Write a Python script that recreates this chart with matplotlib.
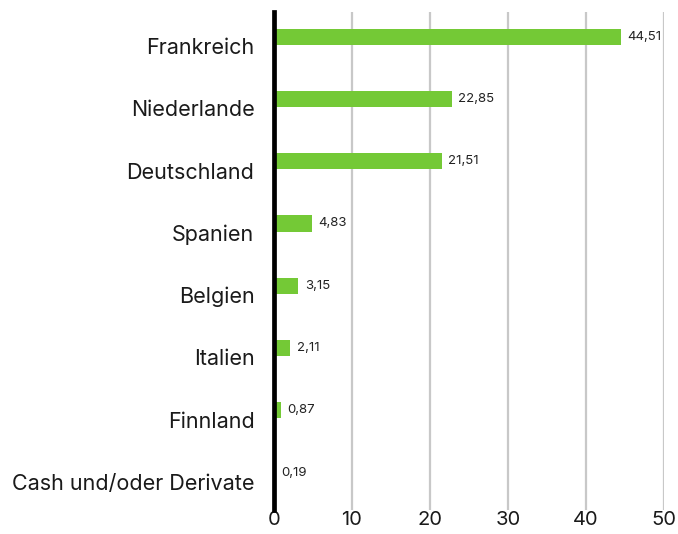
import matplotlib.pyplot as plt

plt.rcParams['font.family'] = ['Inter', 'DejaVu Sans']

countries = ['Frankreich', 'Niederlande', 'Deutschland', 'Spanien',
             'Belgien', 'Italien', 'Finnland', 'Cash und/oder Derivate']
weights = [44.51, 22.85, 21.51, 4.83, 3.15, 2.11, 0.87, 0.19]
xticks = [0, 10, 20, 30, 40, 50]

fig = plt.figure(figsize=(6.78, 5.34), dpi=100)
ax = fig.add_axes([0.404, 0.045, 0.575, 0.933])

pos = list(range(len(countries)))
bar_pos = [p - 0.1 for p in pos]
ax.barh(bar_pos, weights, height=0.26, color='#74C936', zorder=3)

for y, w in zip(bar_pos, weights):
    ax.text(w + 0.8, y, f'{w:.2f}'.replace('.', ','), va='center', ha='left',
            fontsize=9.5, color='#222222')

ax.set_ylim(len(countries) - 0.5, -0.5)
ax.set_xlim(0, 50)
ax.set_yticks([p + 0.05 for p in pos])
ax.set_yticklabels(countries, fontsize=15.5, color='#1a1a1a')
ax.set_xticks(xticks)
ax.set_xticklabels([str(t) for t in xticks], fontsize=14.5, color='#1a1a1a')
ax.tick_params(axis='y', length=0, pad=14)
ax.tick_params(axis='x', length=0, pad=1)

ax.grid(axis='x', color='#c8c8c8', linewidth=1.6, zorder=0)
for s in ['top', 'right', 'bottom']:
    ax.spines[s].set_visible(False)
ax.spines['left'].set_linewidth(3.4)
ax.spines['left'].set_color('black')
ax.spines['left'].set_zorder(4)

fig.savefig('out.png', dpi=100)
